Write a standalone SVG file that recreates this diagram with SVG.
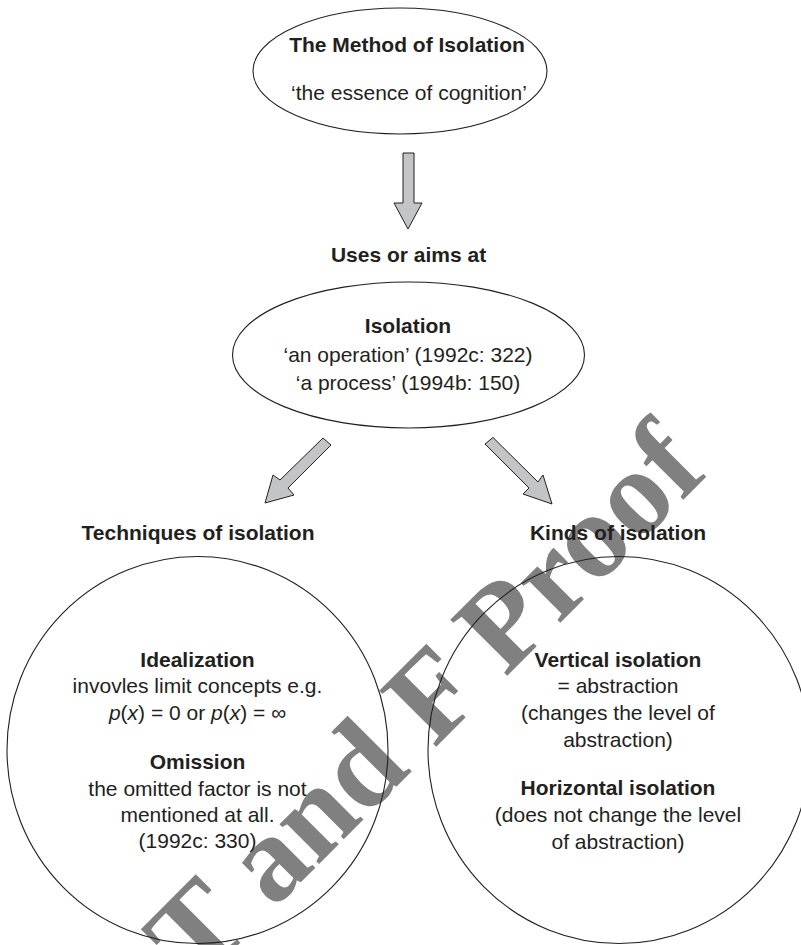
<svg xmlns="http://www.w3.org/2000/svg" width="801" height="945" viewBox="0 0 801 945">
<style>
.t{font-family:"Liberation Sans",Arial,Helvetica,sans-serif;font-size:21px;fill:#231f20;text-anchor:middle}
.b{font-weight:bold}
.i{font-style:italic}
.shape{fill:none;stroke:#231f20;stroke-width:1.1}
.arr{fill:#c3c4c6;stroke:#231f20;stroke-width:1;stroke-linejoin:miter}
.wm{font-family:"Liberation Serif","Times New Roman",serif;font-weight:bold;font-size:122px;fill:#808080}
</style>
<rect width="801" height="945" fill="#ffffff"/>
<g id="watermark">
<text class="wm" transform="translate(196,987) rotate(-45)">T and F Proof</text>
</g>
<g id="connectors">
<polygon class="arr" points="403,153 414,153 414,203 422,203 408,229 394,203 403,203"/>
<polygon class="arr" points="323,438 331,445 288,488 294,495 265,503 273,475 280,480"/>
<polygon class="arr" points="485,444 493,437.5 538,482 543,475 552,504 523,494 529,488"/>
</g>
<g id="method">
<ellipse class="shape" cx="400" cy="71" rx="147" ry="63"/>
<text class="t b" x="407" y="52">The Method of Isolation</text>
<text class="t" x="409" y="100">‘the essence of cognition’</text>
</g>
<g id="uses-label">
<text class="t b" x="408.5" y="262">Uses or aims at</text>
</g>
<g id="isolation">
<ellipse class="shape" cx="408.5" cy="355" rx="176" ry="73"/>
<text class="t b" x="408" y="333">Isolation</text>
<text class="t" x="408" y="362">‘an operation’ (1992c: 322)</text>
<text class="t" x="408" y="390">‘a process’ (1994b: 150)</text>
</g>
<g id="techniques-label">
<text class="t b" x="198" y="540">Techniques of isolation</text>
</g>
<g id="kinds-label">
<text class="t b" x="618" y="540">Kinds of isolation</text>
</g>
<g id="techniques">
<ellipse class="shape" cx="197.5" cy="750" rx="190.5" ry="193.5"/>
<text class="t b" x="197.5" y="667">Idealization</text>
<text class="t" x="197.5" y="693">invovles limit concepts e.g.</text>
<text class="t" x="197.5" y="720"><tspan class="i">p</tspan>(<tspan class="i">x</tspan>) = 0 or <tspan class="i">p</tspan>(<tspan class="i">x</tspan>) = ∞</text>
<text class="t b" x="197.5" y="769">Omission</text>
<text class="t" x="197.5" y="796">the omitted factor is not</text>
<text class="t" x="197.5" y="822">mentioned at all.</text>
<text class="t" x="197.5" y="848">(1992c: 330)</text>
</g>
<g id="kinds">
<ellipse class="shape" cx="619" cy="750" rx="191" ry="193.5"/>
<text class="t b" x="618" y="667">Vertical isolation</text>
<text class="t" x="618" y="693">= abstraction</text>
<text class="t" x="618" y="720">(changes the level of</text>
<text class="t" x="618" y="747">abstraction)</text>
<text class="t b" x="618" y="795">Horizontal isolation</text>
<text class="t" x="618" y="822">(does not change the level</text>
<text class="t" x="618" y="849">of abstraction)</text>
</g>
</svg>
